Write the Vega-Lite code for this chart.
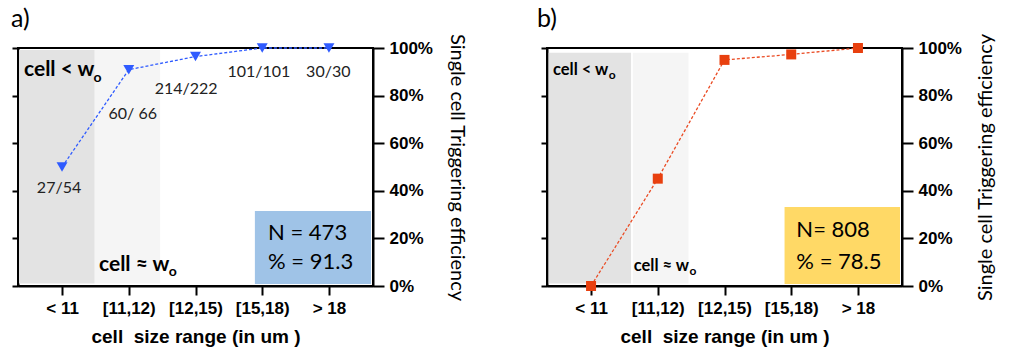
{
  "$schema": "https://vega.github.io/schema/vega-lite/v6.json",
  "padding": {"left": 10, "top": 6, "right": 0, "bottom": 0},
  "background": "white",
  "spacing": 68,
  "config": {
    "view": {"stroke": "black", "strokeWidth": 2},
    "axis": {"domainColor": "black", "domainWidth": 2, "tickColor": "black", "tickWidth": 2, "grid": false, "labelColor": "black", "titleColor": "black"},
    "title": {"font": "Lato", "fontSize": 25, "fontWeight": "normal", "color": "black", "anchor": "start", "frame": "bounds", "baseline": "bottom", "offset": 1}
  },
  "datasets": {
    "eff_a": [
      {"size": "< 11", "eff": 0.5, "count": "27/54"},
      {"size": "[11,12)", "eff": 0.909, "count": "60/ 66"},
      {"size": "[12,15)", "eff": 0.964, "count": "214/222"},
      {"size": "[15,18)", "eff": 1.0, "count": "101/101"},
      {"size": "> 18", "eff": 1.0, "count": "30/30"}
    ],
    "eff_b": [
      {"size": "< 11", "eff": 0.0},
      {"size": "[11,12)", "eff": 0.451},
      {"size": "[12,15)", "eff": 0.95},
      {"size": "[15,18)", "eff": 0.973},
      {"size": "> 18", "eff": 1.0}
    ],
    "counts_a": [
      {"count": "27/54", "x": 0.955, "y": 0.412},
      {"count": "60/ 66", "x": 2.06, "y": 0.723},
      {"count": "214/222", "x": 2.86, "y": 0.828},
      {"count": "101/101", "x": 3.95, "y": 0.899},
      {"count": "30/30", "x": 4.99, "y": 0.899}
    ],
    "zones_a": [
      {"zone": "cell < wo", "from": 0.355, "to": 1.49, "lo": 0.011, "hi": 0.992},
      {"zone": "cell ≈ wo", "from": 1.49, "to": 2.47, "lo": 0.011, "hi": 0.992}
    ],
    "zones_b": [
      {"zone": "cell < wo", "from": 0.365, "to": 1.6, "lo": 0.011, "hi": 0.98},
      {"zone": "cell ≈ wo", "from": 1.625, "to": 2.46, "lo": 0.011, "hi": 0.98}
    ],
    "box_a": [{"from": 3.89, "to": 5.63, "lo": 0.008, "hi": 0.315}],
    "box_b": [{"from": 3.9, "to": 5.63, "lo": 0.008, "hi": 0.332}],
    "stats_a": [
      {"line": "N = 473", "x": 4.087, "y": 0.223},
      {"line": "% = 91.3", "x": 4.087, "y": 0.101}
    ],
    "stats_b": [
      {"line": "N= 808", "x": 4.077, "y": 0.235},
      {"line": "% = 78.5", "x": 4.077, "y": 0.101}
    ],
    "notes_a": [
      {"note": "cell < w", "x": 0.43, "y": 0.884},
      {"note": "cell ≈ w", "x": 1.554, "y": 0.064}
    ],
    "subs_a": [
      {"note": "o", "x": 1.47, "y": 0.859},
      {"note": "o", "x": 2.6, "y": 0.042}
    ],
    "notes_b": [
      {"note": "cell < w", "x": 0.43, "y": 0.887},
      {"note": "cell ≈ w", "x": 1.64, "y": 0.064}
    ],
    "subs_b": [
      {"note": "o", "x": 1.267, "y": 0.868},
      {"note": "o", "x": 2.477, "y": 0.046}
    ]
  },
  "hconcat": [
    {
      "title": {"text": "a)"},
      "width": 355,
      "height": 238,
      "resolve": {"scale": {"x": "independent"}, "axis": {"y": "independent", "x": "independent"}},
      "layer": [
        {
          "data": {"name": "zones_a"},
          "mark": {"type": "rect"},
          "encoding": {
            "x": {"field": "from", "type": "quantitative", "scale": {"domain": [0.34, 5.66], "nice": false, "zero": false}, "axis": null},
            "x2": {"field": "to"},
            "y": {"field": "lo", "type": "quantitative", "scale": {"domain": [0, 1], "nice": false}, "axis": null},
            "y2": {"field": "hi"},
            "color": {"field": "zone", "type": "nominal", "scale": {"domain": ["cell < wo", "cell ≈ wo"], "range": ["#e3e3e3", "#f5f5f5"]}, "legend": null}
          }
        },
        {
          "data": {"name": "box_a"},
          "mark": {"type": "rect", "color": "#9fc3e7"},
          "encoding": {
            "x": {"field": "from", "type": "quantitative", "scale": {"domain": [0.34, 5.66], "nice": false, "zero": false}, "axis": null},
            "x2": {"field": "to"},
            "y": {"field": "lo", "type": "quantitative", "scale": {"domain": [0, 1], "nice": false}, "axis": null},
            "y2": {"field": "hi"}
          }
        },
        {
          "data": {"name": "stats_a"},
          "mark": {"type": "text", "font": "Lato", "fontSize": 22, "align": "left", "baseline": "middle", "color": "black"},
          "encoding": {
            "x": {"field": "x", "type": "quantitative", "scale": {"domain": [0.34, 5.66], "nice": false, "zero": false}, "axis": null},
            "y": {"field": "y", "type": "quantitative", "scale": {"domain": [0, 1], "nice": false}, "axis": null},
            "text": {"field": "line"}
          }
        },
        {
          "data": {"name": "notes_a"},
          "mark": {"type": "text", "font": "Lato", "fontSize": 21, "fontWeight": "bold", "align": "left", "baseline": "alphabetic", "color": "black"},
          "encoding": {
            "x": {"field": "x", "type": "quantitative", "scale": {"domain": [0.34, 5.66], "nice": false, "zero": false}, "axis": null},
            "y": {"field": "y", "type": "quantitative", "scale": {"domain": [0, 1], "nice": false}, "axis": null},
            "text": {"field": "note"}
          }
        },
        {
          "data": {"name": "subs_a"},
          "mark": {"type": "text", "font": "Lato", "fontSize": 14, "fontWeight": "bold", "align": "left", "baseline": "alphabetic", "color": "black"},
          "encoding": {
            "x": {"field": "x", "type": "quantitative", "scale": {"domain": [0.34, 5.66], "nice": false, "zero": false}, "axis": null},
            "y": {"field": "y", "type": "quantitative", "scale": {"domain": [0, 1], "nice": false}, "axis": null},
            "text": {"field": "note"}
          }
        },
        {
          "data": {"name": "eff_a"},
          "mark": {"type": "line", "color": "#2f5bff", "strokeWidth": 1.3, "strokeDash": [3, 2]},
          "encoding": {
            "x": {"field": "size", "type": "ordinal", "sort": null, "scale": {"type": "point", "domain": ["< 11", "[11,12)", "[12,15)", "[15,18)", "> 18"], "padding": 0.66},
              "axis": {"title": "cell\u00a0 size range (in um )", "labelAngle": 0, "labelFont": "Liberation Sans", "labelFontSize": 17, "labelFontWeight": "bold", "labelPadding": 5, "tickSize": 9, "titleFont": "Liberation Sans", "titleFontSize": 19, "titleFontWeight": "bold", "titlePadding": 11}},
            "y": {"field": "eff", "type": "quantitative", "scale": {"domain": [0, 1], "nice": false},
              "axis": {"orient": "left", "values": [0, 0.2, 0.4, 0.6, 0.8, 1], "labels": false, "tickSize": 6, "title": null}}
          }
        },
        {
          "data": {"name": "eff_a"},
          "mark": {"type": "point", "shape": "triangle-down", "filled": true, "opacity": 1, "color": "#2f5bff", "size": 120},
          "encoding": {
            "x": {"field": "size", "type": "ordinal", "sort": null, "scale": {"type": "point", "domain": ["< 11", "[11,12)", "[12,15)", "[15,18)", "> 18"], "padding": 0.66}, "axis": null},
            "y": {"field": "eff", "type": "quantitative", "scale": {"domain": [0, 1], "nice": false},
              "axis": {"orient": "right", "values": [0, 0.2, 0.4, 0.6, 0.8, 1], "format": ".0%", "labelFont": "Liberation Sans", "labelFontSize": 17, "labelFontWeight": "bold", "labelPadding": 5, "tickSize": 11, "title": "Single cell Triggering efficiency", "titleFont": "Lato", "titleFontSize": 20, "titleFontWeight": "normal", "titleAngle": 90, "titlePadding": 14}}
          }
        },
        {
          "data": {"name": "counts_a"},
          "mark": {"type": "text", "font": "Lato", "fontSize": 16, "align": "center", "baseline": "middle", "color": "#222222"},
          "encoding": {
            "x": {"field": "x", "type": "quantitative", "scale": {"domain": [0.34, 5.66], "nice": false, "zero": false}, "axis": null},
            "y": {"field": "y", "type": "quantitative", "scale": {"domain": [0, 1], "nice": false}, "axis": null},
            "text": {"field": "count"}
          }
        }
      ]
    },
    {
      "title": {"text": "b)", "dx": -3},
      "width": 355,
      "height": 238,
      "resolve": {"scale": {"x": "independent"}, "axis": {"y": "independent", "x": "independent"}},
      "layer": [
        {
          "data": {"name": "zones_b"},
          "mark": {"type": "rect"},
          "encoding": {
            "x": {"field": "from", "type": "quantitative", "scale": {"domain": [0.34, 5.66], "nice": false, "zero": false}, "axis": null},
            "x2": {"field": "to"},
            "y": {"field": "lo", "type": "quantitative", "scale": {"domain": [0, 1], "nice": false}, "axis": null},
            "y2": {"field": "hi"},
            "color": {"field": "zone", "type": "nominal", "scale": {"domain": ["cell < wo", "cell ≈ wo"], "range": ["#e3e3e3", "#f5f5f5"]}, "legend": null}
          }
        },
        {
          "data": {"name": "box_b"},
          "mark": {"type": "rect", "color": "#ffd966"},
          "encoding": {
            "x": {"field": "from", "type": "quantitative", "scale": {"domain": [0.34, 5.66], "nice": false, "zero": false}, "axis": null},
            "x2": {"field": "to"},
            "y": {"field": "lo", "type": "quantitative", "scale": {"domain": [0, 1], "nice": false}, "axis": null},
            "y2": {"field": "hi"}
          }
        },
        {
          "data": {"name": "stats_b"},
          "mark": {"type": "text", "font": "Lato", "fontSize": 22, "align": "left", "baseline": "middle", "color": "black"},
          "encoding": {
            "x": {"field": "x", "type": "quantitative", "scale": {"domain": [0.34, 5.66], "nice": false, "zero": false}, "axis": null},
            "y": {"field": "y", "type": "quantitative", "scale": {"domain": [0, 1], "nice": false}, "axis": null},
            "text": {"field": "line"}
          }
        },
        {
          "data": {"name": "notes_b"},
          "mark": {"type": "text", "font": "Lato", "fontSize": 16.5, "fontWeight": "bold", "align": "left", "baseline": "alphabetic", "color": "black"},
          "encoding": {
            "x": {"field": "x", "type": "quantitative", "scale": {"domain": [0.34, 5.66], "nice": false, "zero": false}, "axis": null},
            "y": {"field": "y", "type": "quantitative", "scale": {"domain": [0, 1], "nice": false}, "axis": null},
            "text": {"field": "note"}
          }
        },
        {
          "data": {"name": "subs_b"},
          "mark": {"type": "text", "font": "Lato", "fontSize": 12, "fontWeight": "bold", "align": "left", "baseline": "alphabetic", "color": "black"},
          "encoding": {
            "x": {"field": "x", "type": "quantitative", "scale": {"domain": [0.34, 5.66], "nice": false, "zero": false}, "axis": null},
            "y": {"field": "y", "type": "quantitative", "scale": {"domain": [0, 1], "nice": false}, "axis": null},
            "text": {"field": "note"}
          }
        },
        {
          "data": {"name": "eff_b"},
          "mark": {"type": "line", "color": "#ea4a22", "strokeWidth": 1.3, "strokeDash": [3, 2]},
          "encoding": {
            "x": {"field": "size", "type": "ordinal", "sort": null, "scale": {"type": "point", "domain": ["< 11", "[11,12)", "[12,15)", "[15,18)", "> 18"], "padding": 0.66},
              "axis": {"title": "cell\u00a0 size range (in um )", "labelAngle": 0, "labelFont": "Liberation Sans", "labelFontSize": 17, "labelFontWeight": "bold", "labelPadding": 5, "tickSize": 9, "titleFont": "Liberation Sans", "titleFontSize": 19, "titleFontWeight": "bold", "titlePadding": 11}},
            "y": {"field": "eff", "type": "quantitative", "scale": {"domain": [0, 1], "nice": false},
              "axis": {"orient": "left", "values": [0, 0.2, 0.4, 0.6, 0.8, 1], "labels": false, "tickSize": 6, "title": null}}
          }
        },
        {
          "data": {"name": "eff_b"},
          "mark": {"type": "square", "filled": true, "opacity": 1, "color": "#e8400f", "size": 100},
          "encoding": {
            "x": {"field": "size", "type": "ordinal", "sort": null, "scale": {"type": "point", "domain": ["< 11", "[11,12)", "[12,15)", "[15,18)", "> 18"], "padding": 0.66}, "axis": null},
            "y": {"field": "eff", "type": "quantitative", "scale": {"domain": [0, 1], "nice": false},
              "axis": {"orient": "right", "values": [0, 0.2, 0.4, 0.6, 0.8, 1], "format": ".0%", "labelFont": "Liberation Sans", "labelFontSize": 17, "labelFontWeight": "bold", "labelPadding": 5, "tickSize": 11, "title": "Single cell Triggering efficiency", "titleFont": "Lato", "titleFontSize": 20, "titleFontWeight": "normal", "titleAngle": 270, "titleBaseline": "top", "titlePadding": 14}}
          }
        }
      ]
    }
  ]
}
